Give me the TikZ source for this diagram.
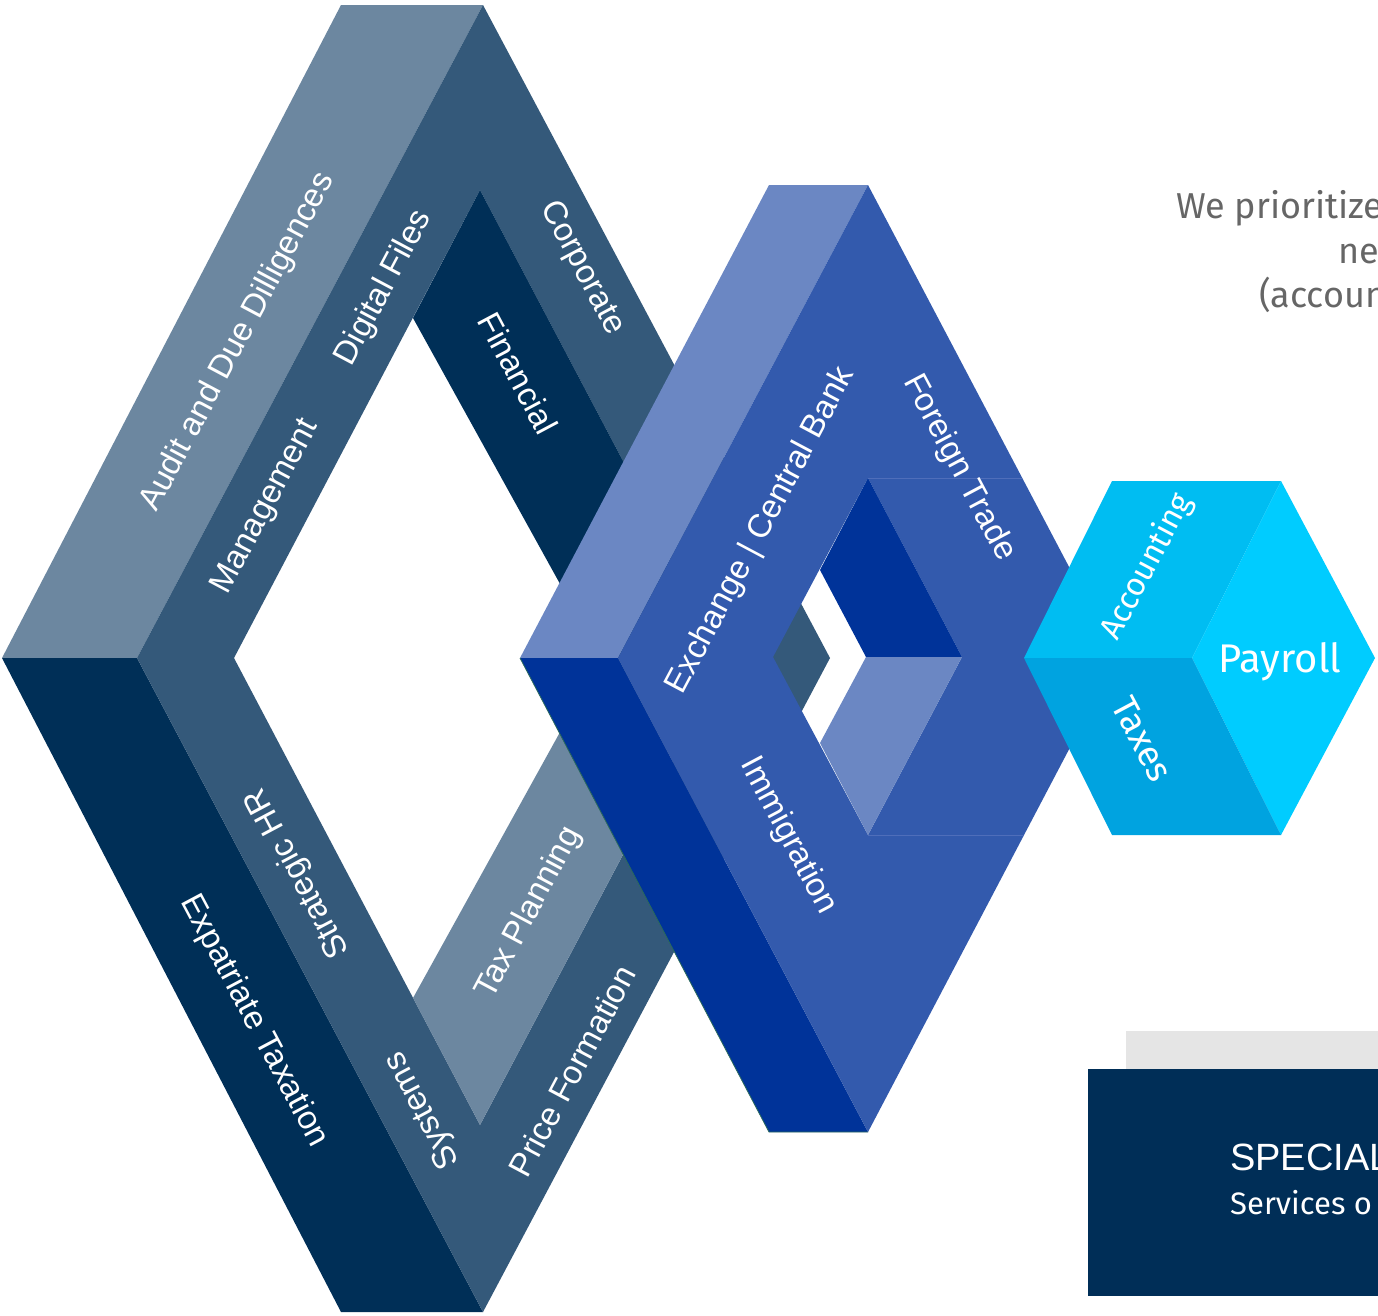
\documentclass[tikz,border=0pt]{standalone}
\usepackage{fontspec}
\setmainfont{Liberation Sans}
\newfontfamily\dinfont{Fira Sans}
\definecolor{slateL}{HTML}{6C87A0}
\definecolor{slateM}{HTML}{34597A}
\definecolor{navyD}{HTML}{002F57}
\definecolor{blueF}{HTML}{335AAD}
\definecolor{blueL}{HTML}{6B87C3}
\definecolor{blueD}{HTML}{003399}
\definecolor{blueSeam}{HTML}{4F6EBA}
\definecolor{greenEdge}{HTML}{2A6A5C}
\definecolor{cyanT}{HTML}{00BDF2}
\definecolor{cyanR}{HTML}{00CCFF}
\definecolor{cyanB}{HTML}{00A3E0}
\definecolor{grayT}{HTML}{666666}
\definecolor{grayR}{HTML}{E5E5E5}
\definecolor{navyBox}{HTML}{002E57}
\begin{document}
\begin{tikzpicture}[x=1pt,y=-1pt,
  lbl/.style={text=white,inner sep=0pt,font=\fontsize{33pt}{39pt}\selectfont},
  cubelbl/.style={text=white,inner sep=0pt,font=\dinfont\fontsize{32pt}{38pt}\selectfont},
  graytxt/.style={text=grayT,inner sep=0pt,anchor=base west,font=\dinfont\fontsize{36pt}{42pt}\selectfont},
  seam/.style={draw=blueSeam,line width=1pt},
  greenline/.style={draw=greenEdge,line width=0.8pt}]
\useasboundingbox (0,0) rectangle (1378,1315);
\clip (0,0) rectangle (1378,1315);
\fill[white] (0,0) rectangle (1378,1315);

% ---------- left impossible diamond ----------
\fill[slateL] (341,5) -- (483,5) -- (137,658) -- (2,658) -- cycle;
\fill[navyD] (2,658) -- (137,658) -- (483,1312) -- (341,1312) -- cycle;
\fill[slateM,even odd rule] (483,5) -- (830,658) -- (483,1312) -- (137,658) -- cycle
  (480,190) -- (727,658) -- (480,1125) -- (234,658) -- cycle;
\fill[navyD] (480,190) -- (727,658) -- (601,658) -- (413,318) -- cycle;
\fill[slateL] (601,658) -- (727,658) -- (480,1125) -- (413,998) -- cycle;

% ---------- blue diamond ----------
\fill[blueL] (769,185) -- (868,185) -- (618,658) -- (520,658) -- cycle;
\fill[blueD] (520,658) -- (618,658) -- (868,1132) -- (769,1132) -- cycle;
\draw[greenline] (520,658) -- (769,1132) -- (868,1132);
\fill[blueF,even odd rule] (868,185) -- (1117,658) -- (868,1132) -- (618,658) -- cycle
  (868,478) -- (962,657) -- (868,835) -- (773,657) -- cycle;
\fill[blueD] (868,478) -- (962,657) -- (866,657) -- (820,570) -- cycle;
\fill[blueL] (866,657) -- (962,657) -- (868,835) -- (820,743) -- cycle;
\draw[seam] (868,478) -- (1022,478);
\draw[seam] (868,835) -- (1024,835);

% ---------- cyan cube ----------
\fill[cyanT] (1112,481) -- (1281,481) -- (1192,658) -- (1024,658) -- cycle;
\fill[cyanR] (1281,481) -- (1375,658) -- (1281,835) -- (1192,658) -- cycle;
\fill[cyanB] (1024,658) -- (1192,658) -- (1281,835) -- (1112,835) -- cycle;

% ---------- boxes bottom right ----------
\fill[grayR] (1126,1031) rectangle (1400,1120);
\fill[navyBox] (1088,1069) rectangle (1400,1296);

% ---------- labels ----------
\node[lbl,rotate=62] (audit) at (238,342) {Audit and Due Dilligences};
\node[lbl,rotate=62] (digital) at (384,288) {Digital Files};
\node[lbl,rotate=62] (mgmt) at (266,507) {Management};
\node[lbl,rotate=-62] (corp) at (582,268) {Corporate};
\node[lbl,rotate=-62] (fin) at (518,373) {Financial};
\node[lbl,rotate=-62] (expat) at (254,1021) {Expatriate Taxation};
\node[lbl,rotate=118] (hr) at (298,873) {Strategic HR};
\node[lbl,rotate=118] (sys) at (423,1110) {Systems};
\node[lbl,rotate=62] (taxpl) at (529,913) {Tax Planning};
\node[lbl,rotate=62] (price) at (572,1071) {Price Formation};
\node[lbl,rotate=62] (exch) at (761,531) {Exchange | Central Bank};
\node[lbl,rotate=-62] (foreign) at (959,468) {Foreign Trade};
\node[lbl,rotate=-62] (immig) at (788,836) {Immigration};

\node[cubelbl,rotate=62] (acc) at (1147,567) {Accounting};
\node[cubelbl,rotate=-62,font=\dinfont\fontsize{36pt}{42pt}\selectfont] (taxes) at (1142,739) {Taxes};
\node[cubelbl,font=\dinfont\fontsize{40pt}{46pt}\selectfont] (payroll) at (1280,662) {Payroll};

% ---------- right texts ----------
\node[graytxt] (t1) at (1176,218) {We prioritize};
\node[graytxt] (t2) at (1338,263) {ne};
\node[graytxt] (t3) at (1259,307) {(accoun};

\node[text=white,inner sep=0pt,anchor=base west,font=\fontsize{38pt}{45pt}\selectfont] (spec) at (1230,1170) {SPECIAL};
\node[text=white,inner sep=0pt,anchor=base west,font=\dinfont\fontsize{31pt}{37pt}\selectfont] (serv) at (1230,1214) {Services o};
\end{tikzpicture}
\end{document}
